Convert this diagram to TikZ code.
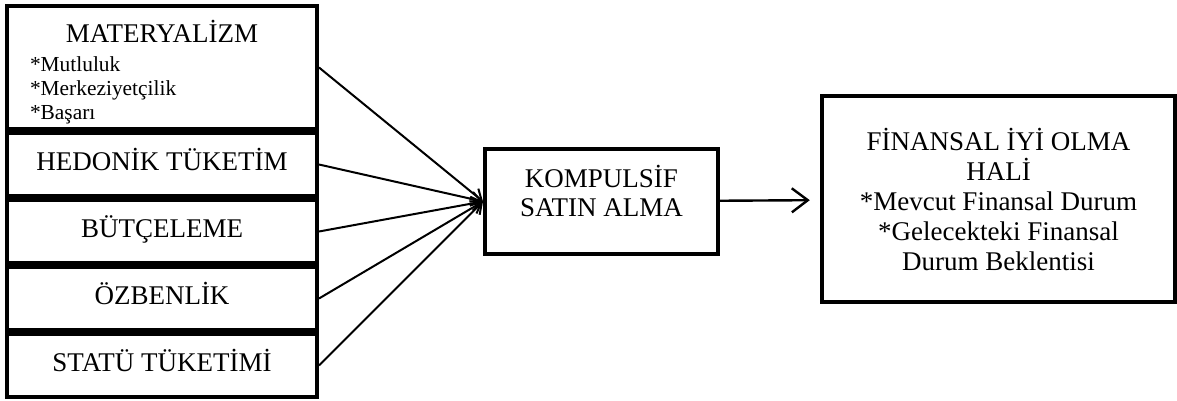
\documentclass[tikz,border=0pt]{standalone}
\usepackage{fontspec}
\setmainfont{Liberation Serif}
\usetikzlibrary{arrows.meta,positioning}
\tikzstyle{box} = [draw, line width=2pt, minimum width=155pt, minimum height=31.5pt, inner sep=0pt, align=center, font=\fontsize{13.5}{15}\selectfont]
\tikzstyle{item} = [box, text height=9.5pt, text depth=4pt]
\tikzstyle{goal} = [box, line width=2.2pt]
\newcommand{\listfont}{\fontsize{10.7}{12}\selectfont}

\begin{document}
\begin{tikzpicture}[x=0.5pt,y=-0.5pt,->,>={Straight Barb[length=5pt,width=7pt]},line width=1pt,node distance=0pt]
\useasboundingbox (0,0) rectangle (1177,401);

\node[box, minimum height=61.5pt, inner xsep=11.5pt, align=left, font=\fontsize{13.5}{12}\selectfont] (mat) at (162,67.5)
  {\rule{0pt}{15.8pt}\makebox[132pt]{MATERYALİZM}\\[2.5pt]{\listfont *Mutluluk}\\{\listfont *Merkeziyetçilik}\\{\listfont *Başarı}};
\node[item] (hed) [below=of mat] {HEDONİK TÜKETİM};
\node[item] (but) [below=of hed] {BÜTÇELEME};
\node[item] (ozb) [below=of but] {ÖZBENLİK};
\node[item] (sta) [below=of ozb] {STATÜ TÜKETİMİ};

\node[box, minimum width=116.5pt, minimum height=52.5pt, text depth=11pt, font=\fontsize{13.5}{14.5}\selectfont] (kmp) at (601.5,201.5) {KOMPULSİF\\SATIN ALMA};
\node[goal, minimum width=176.5pt, minimum height=103pt] (fin) at (998.5,199)
  {FİNANSAL İYİ OLMA\\HALİ\\*Mevcut Finansal Durum\\*Gelecekteki Finansal\\Durum Beklentisi};

  \path
    (mat.east) edge [] node {} (kmp.west)
    (hed.east) edge [] node {} (kmp.west)
    (but.east) edge [] node {} (kmp.west)
    (ozb.east) edge [] node {} (kmp.west)
    (sta.east) edge [] node {} (kmp.west);

  \draw[-{Straight Barb[length=8pt,width=12pt]}, line width=1.2pt, shorten >=5pt] (kmp) -- (fin);

\end{tikzpicture}
\end{document}
